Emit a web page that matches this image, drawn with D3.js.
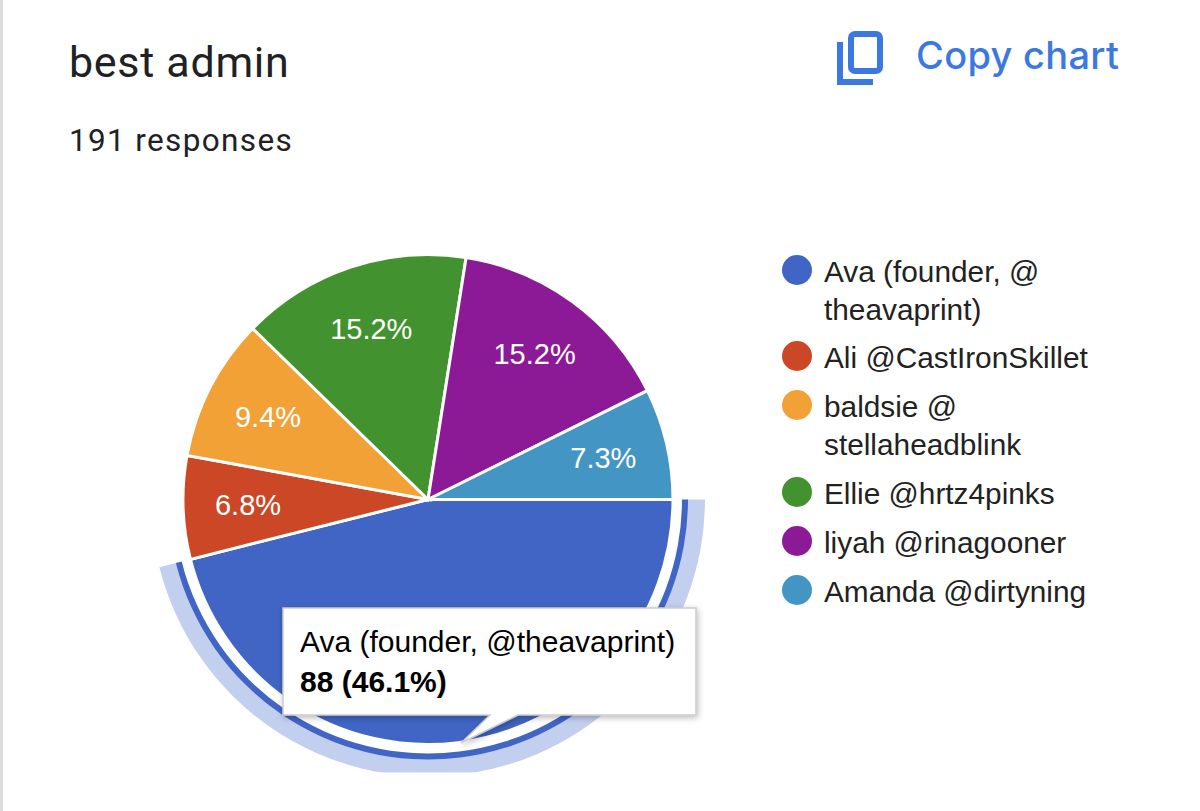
<!DOCTYPE html>
<html><head><meta charset="utf-8">
<script src="https://cdn.jsdelivr.net/npm/d3@7"></script>
<style>html,body{margin:0;padding:0;background:#fff;overflow:hidden}svg{display:block}</style>
</head><body><svg id="c" width="1200" height="811"></svg>
<script>
const categories = ["Ava (founder, @theavaprint)","Ali @CastIronSkillet","baldsie @stellaheadblink","Ellie @hrtz4pinks","liyah @rinagooner","Amanda @dirtyning"];
const legendLines = [["Ava (founder, @","theavaprint)"],["Ali @CastIronSkillet"],["baldsie @","stellaheadblink"],["Ellie @hrtz4pinks"],["liyah @rinagooner"],["Amanda @dirtyning"]];
const values = [88,13,18,29,29,14];
const colors = ["#4065c4","#cc4725","#f2a137","#429330","#8c1a96","#4396c4"];
const svg = d3.select("#c");
const sans = "Liberation Sans, Arial, sans-serif";
svg.append("rect").attr("width",3).attr("height",811).attr("fill","#dcdcdc");
svg.append("text").attr("x",69).attr("y",77).attr("font-family","Roboto").attr("font-size",43).attr("letter-spacing",0.7).attr("fill","#202124").text("best admin");
svg.append("text").attr("x",69).attr("y",151).attr("font-family","Roboto").attr("font-size",31.5).attr("letter-spacing",1.35).attr("fill","#202124").text("191 responses");
svg.append("text").attr("x",916).attr("y",69).attr("font-family","Inter").attr("font-size",38).attr("font-weight",500).attr("letter-spacing",0.3).attr("fill","#3b78e0").text("Copy chart");
const ic = svg.append("g").attr("fill","none").attr("stroke","#3b78e0").attr("stroke-width",6);
ic.append("rect").attr("x",851).attr("y",34).attr("width",29).attr("height",37).attr("rx",4);
ic.append("path").attr("d","M840 42V82H873");
const cx=428, cy=499.5, R=245;
const pie = d3.pie().value(d=>d).sort(null).startAngle(Math.PI/2).endAngle(Math.PI*2.5);
const arcs = pie(values);
const arc = d3.arc().innerRadius(0).outerRadius(R);
const g = svg.append("g").attr("transform",`translate(${cx},${cy})`);
svg.append("clipPath").attr("id","bot").append("rect").attr("x",-400).attr("y",-300).attr("width",800).attr("height",573);
const a0=arcs[0];
g.append("path").attr("clip-path","url(#bot)").attr("fill","#c3cfee").attr("d",d3.arc().innerRadius(259).outerRadius(277)(a0));
g.append("path").attr("fill","#4065c4").attr("d",d3.arc().innerRadius(254).outerRadius(260)(a0));
g.selectAll("path.s").data(arcs).join("path").attr("class","s").attr("d",arc).attr("fill",(d,i)=>colors[i]).attr("stroke","#fff").attr("stroke-width",3);
g.selectAll("text.p").data(arcs.slice(1)).join("text").attr("class","p")
 .each(function(d){const m=(d.startAngle+d.endAngle)/2,r=R*0.735;
  d3.select(this).attr("x",r*Math.sin(m)).attr("y",-r*Math.cos(m)+10)})
 .attr("text-anchor","middle").attr("font-family",sans).attr("font-size",29).attr("fill","#fff")
 .text(d=>(d.value/d3.sum(values)*100).toFixed(1)+"%");
const ly=[[272,310],[358],[407,445],[494],[543],[592]];
const lg=svg.append("g");
legendLines.forEach((ls,i)=>{
 lg.append("circle").attr("cx",797).attr("cy",ly[i][0]-2).attr("r",15).attr("fill",colors[i]);
 ls.forEach((t,j)=>lg.append("text").attr("x",824).attr("y",ly[i][j]+10).attr("font-family",sans).attr("font-size",29.8).attr("fill","#222").text(t));
});
const defs=svg.append("defs");
const f=defs.append("filter").attr("id","sh").attr("x","-5%").attr("y","-10%").attr("width","110%").attr("height","125%");
f.append("feDropShadow").attr("dx",1).attr("dy",2).attr("stdDeviation",3).attr("flood-color","#000").attr("flood-opacity",0.28);
svg.append("path").attr("d","M283 608H696V715H518L461 743L490 715H283Z").attr("fill","#fff").attr("stroke","#ccc").attr("stroke-width",1.5).attr("filter","url(#sh)");
svg.append("text").attr("x",300).attr("y",652).attr("font-family",sans).attr("font-size",30).attr("fill","#000").text(categories[0]);
svg.append("text").attr("x",300).attr("y",692).attr("font-family",sans).attr("font-size",30).attr("font-weight","bold").attr("fill","#000").text(values[0]+" ("+(values[0]/d3.sum(values)*100).toFixed(1)+"%)");
</script></body></html>
